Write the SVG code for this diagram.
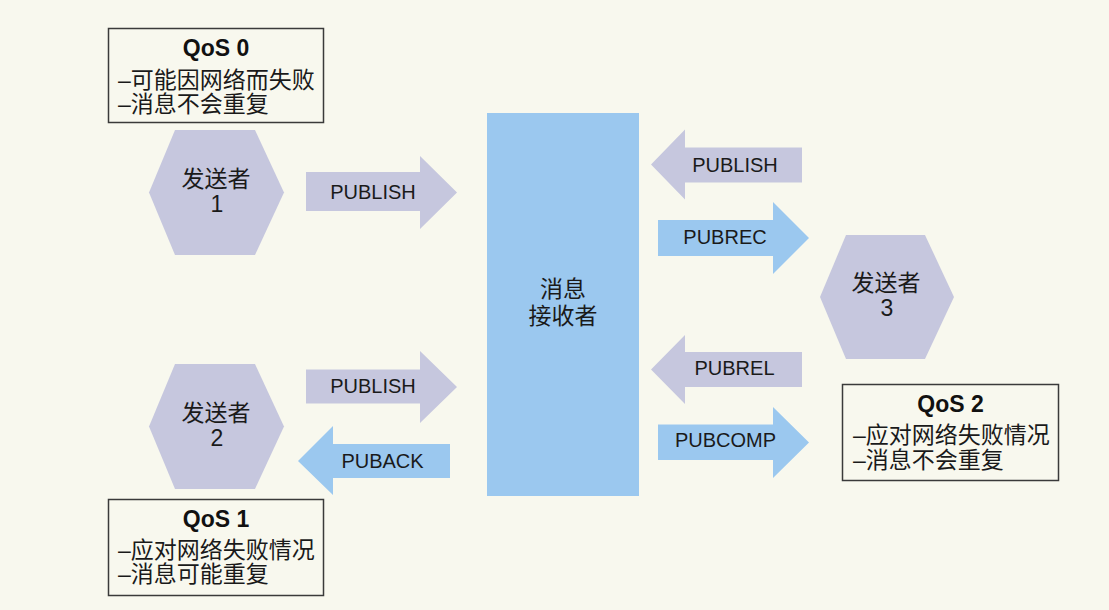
<svg xmlns="http://www.w3.org/2000/svg" width="1109" height="610" viewBox="0 0 1109 610">
<style>
.bg{fill:#f8f8ee}
.hex{fill:#c6c7de}
.recv{fill:#9bc8ef}
.note{fill:#f8f8ee;stroke:#3a3a3a;stroke-width:1.5}
.ap{fill:#c6c7de}
.ab{fill:#9bc8ef}
.t{font-family:"Liberation Sans","Noto Sans CJK SC",sans-serif;font-size:23px;fill:#1a1a1a}
.c{text-anchor:middle}
.ttl{font-family:"Liberation Sans","Noto Sans CJK SC",sans-serif;font-size:23px;font-weight:bold;fill:#111;text-anchor:middle}
.lbl{font-family:"Liberation Sans",Arial,sans-serif;font-size:20px;fill:#1a1a1a;text-anchor:middle}
</style>
<rect class="bg" x="0" y="0" width="1109" height="610"/>

<g id="qos0">
<rect class="note" x="108.5" y="28.5" width="215" height="94"/>
<text class="ttl" x="216" y="56">QoS 0</text>
<text class="t" x="118" y="88">–可能因网络而失败</text>
<text class="t" x="118" y="112">–消息不会重复</text>
</g>

<g id="qos1">
<rect class="note" x="108.5" y="499.5" width="215" height="96"/>
<text class="ttl" x="216" y="527">QoS 1</text>
<text class="t" x="118" y="558">–应对网络失败情况</text>
<text class="t" x="118" y="582">–消息可能重复</text>
</g>

<g id="qos2">
<rect class="note" x="842.5" y="384.5" width="216" height="96"/>
<text class="ttl" x="950.5" y="412">QoS 2</text>
<text class="t" x="853" y="443">–应对网络失败情况</text>
<text class="t" x="853" y="468">–消息不会重复</text>
</g>

<g id="sender1">
<polygon class="hex" points="175,130 255,130 284,192.5 255,255 175,255 149,192.5"/>
<text class="t c" x="216" y="187">发送者</text>
<text class="t c" x="217" y="212">1</text>
</g>

<g id="sender2">
<polygon class="hex" points="175,364 255,364 284,426.5 255,489 175,489 149,426.5"/>
<text class="t c" x="216" y="421">发送者</text>
<text class="t c" x="217" y="446">2</text>
</g>

<g id="sender3">
<polygon class="hex" points="846,235 925,235 954,297 925,359 846,359 820,297"/>
<text class="t c" x="886" y="291">发送者</text>
<text class="t c" x="887" y="316">3</text>
</g>

<g id="receiver">
<rect class="recv" x="487" y="113" width="152" height="383"/>
<text class="t c" x="563" y="297">消息</text>
<text class="t c" x="563" y="324">接收者</text>
</g>

<g id="connectors">
<g id="a-publish1">
<polygon class="ap" points="306,172 420,172 420,156 457,192.5 420,229 420,211 306,211"/>
<text class="lbl" x="373" y="199">PUBLISH</text>
</g>
<g id="a-publish2">
<polygon class="ap" points="306,369.5 420,369.5 420,351 457,387 420,423 420,403.5 306,403.5"/>
<text class="lbl" x="373" y="393">PUBLISH</text>
</g>
<g id="a-puback">
<polygon class="ab" points="450,444 333,444 333,426 298,461 333,495 333,478 450,478"/>
<text class="lbl" x="382.5" y="468">PUBACK</text>
</g>
<g id="a-publish3">
<polygon class="ap" points="802,147.5 685,147.5 685,129.5 651,164.5 685,199.5 685,182.5 802,182.5"/>
<text class="lbl" x="735" y="172">PUBLISH</text>
</g>
<g id="a-pubrec">
<polygon class="ab" points="658,220 773,220 773,202 809,238 773,274 773,256 658,256"/>
<text class="lbl" x="725" y="244">PUBREC</text>
</g>
<g id="a-pubrel">
<polygon class="ap" points="802,352 685,352 685,335 651,369.5 685,404 685,387 802,387"/>
<text class="lbl" x="734.5" y="375">PUBREL</text>
</g>
<g id="a-pubcomp">
<polygon class="ab" points="658,424.5 773,424.5 773,407 809,442.5 773,478 773,460 658,460"/>
<text class="lbl" x="725.5" y="447">PUBCOMP</text>
</g>
</g>
</svg>
